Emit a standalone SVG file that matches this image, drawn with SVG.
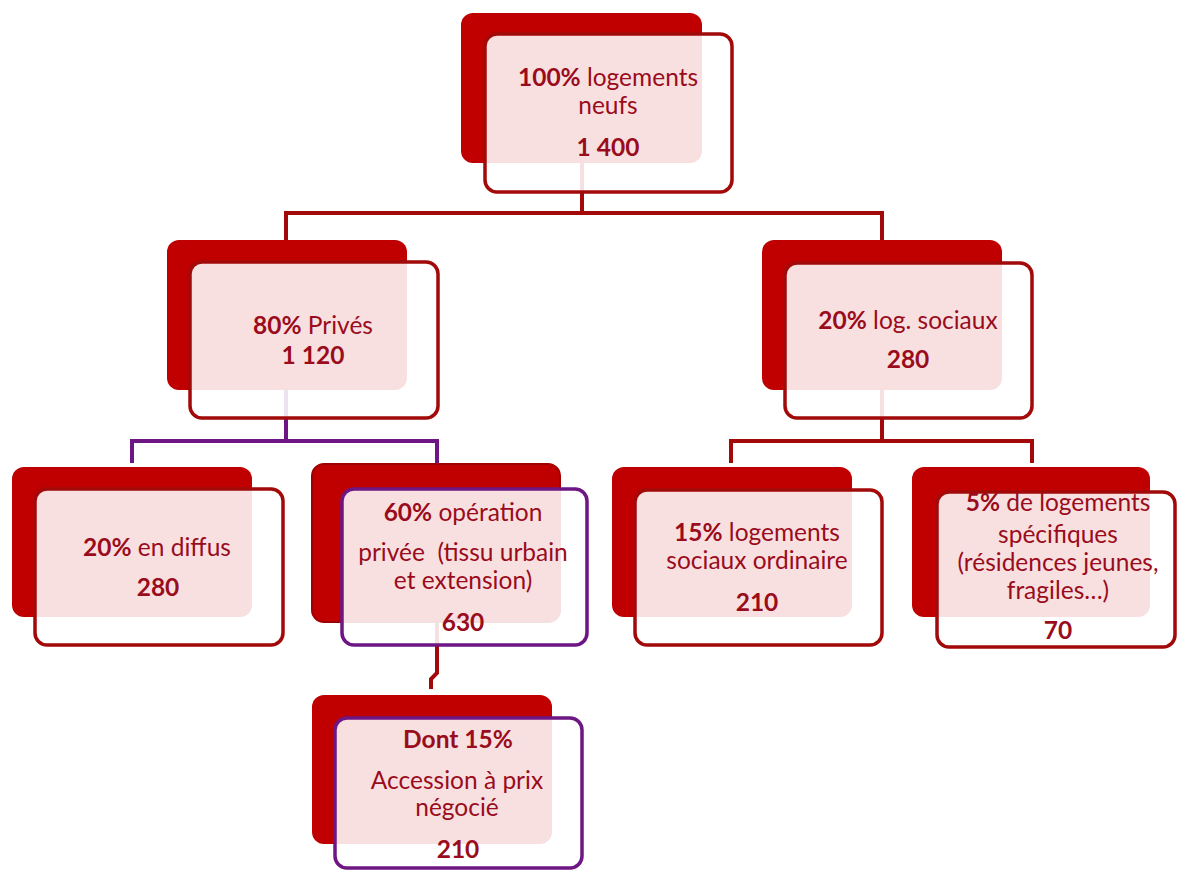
<svg xmlns="http://www.w3.org/2000/svg" width="1177" height="871" viewBox="0 0 1177 871">
<style>
.back{fill:#C00000;}
.back2{fill:#C00000;stroke:#A00000;stroke-width:2;}
.front{fill:#FFFFFF;fill-opacity:0.88;stroke:#A20A0A;stroke-width:3.5;}
.frontp{fill:#FFFFFF;fill-opacity:0.88;stroke:#6E1683;stroke-width:3.5;}
.cr{fill:none;stroke:#A20A0A;stroke-width:4;}
.cp{fill:none;stroke:#6E1683;stroke-width:4;}
text{font-family:Lato,"Liberation Sans",sans-serif;font-size:24.5px;fill:#9A0C1C;text-anchor:middle;}
.b{font-weight:bold;}
</style>
<rect width="1177" height="871" fill="#FFFFFF"/>
<g id="connectors">
<path class="cr" d="M582 100 V213 M286 240 V213 H882 V240"/>
<path class="cp" d="M286 330 V441 M132 463 V441 H437 V463"/>
<path class="cr" d="M882 330 V441 M731 463 V441 H1032 V463"/>
<path class="cr" d="M437 560 V673 L431 679 V689"/>
</g>
<g id="n-total">
<rect class="back" x="461" y="13" width="241" height="150" rx="12"/>
<rect class="front" x="485" y="34" width="247" height="158" rx="12"/>
<text x="608" y="86"><tspan class="b">100%</tspan> logements</text>
<text x="608" y="114">neufs</text>
<text x="608" y="156" class="b">1 400</text>
</g>
<g id="n-prives">
<rect class="back" x="167" y="240" width="240" height="150" rx="12"/>
<rect class="front" x="190" y="262" width="248" height="156" rx="12"/>
<text x="313" y="334"><tspan class="b">80%</tspan> Privés</text>
<text x="313" y="364" class="b">1 120</text>
</g>
<g id="n-sociaux">
<rect class="back" x="762" y="240" width="240" height="150" rx="12"/>
<rect class="front" x="785" y="263" width="247" height="155" rx="12"/>
<text x="908" y="329"><tspan class="b">20%</tspan> log. sociaux</text>
<text x="908" y="368" class="b">280</text>
</g>
<g id="n-diffus">
<rect class="back" x="12" y="467" width="240" height="150" rx="12"/>
<rect class="front" x="35" y="489" width="248" height="156" rx="12"/>
<text x="157" y="556"><tspan class="b">20%</tspan> en diffus</text>
<text x="158" y="596" class="b">280</text>
</g>
<g id="n-operation">
<rect class="back2" x="312" y="464" width="248" height="158" rx="12"/>
<rect class="frontp" x="342" y="489" width="245" height="156" rx="12"/>
<text x="463" y="521"><tspan class="b">60%</tspan> opération</text>
<text x="463" y="561" xml:space="preserve">privée  (tissu urbain</text>
<text x="463" y="589">et extension)</text>
<text x="463" y="631" class="b">630</text>
</g>
<g id="n-accession">
<rect class="back" x="312" y="695" width="240" height="149" rx="12"/>
<rect class="frontp" x="335" y="718" width="247" height="150" rx="12"/>
<text x="458" y="748" class="b">Dont 15%</text>
<text x="457" y="789">Accession à prix</text>
<text x="457" y="816">négocié</text>
<text x="458" y="858" class="b">210</text>
</g>
<g id="n-ordinaire">
<rect class="back" x="612" y="467" width="240" height="150" rx="12"/>
<rect class="front" x="635" y="490" width="247" height="155" rx="12"/>
<text x="757" y="541"><tspan class="b">15%</tspan> logements</text>
<text x="757" y="569">sociaux ordinaire</text>
<text x="757" y="611" class="b">210</text>
</g>
<g id="n-specifiques">
<rect class="back" x="912" y="467" width="238" height="150" rx="12"/>
<rect class="front" x="937" y="492" width="238" height="155" rx="12"/>
<text x="1058" y="511"><tspan class="b">5%</tspan> de logements</text>
<text x="1058" y="543">spécifiques</text>
<text x="1058" y="571">(résidences jeunes,</text>
<text x="1058" y="599">fragiles…)</text>
<text x="1058" y="639" class="b">70</text>
</g>
</svg>
